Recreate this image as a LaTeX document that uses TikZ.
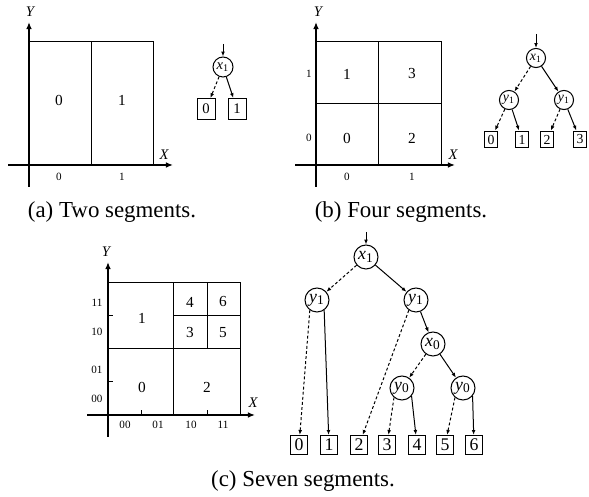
\documentclass[tikz,border=0pt]{standalone}
\usepackage{fontspec}
\setmainfont{Liberation Serif}
\usetikzlibrary{arrows.meta}

\begin{document}
\begin{tikzpicture}[x=0.45pt, y=-0.45pt,
  axis/.style={line width=0.9pt, -{Latex[length=3.2pt,width=2.6pt]}},
  part/.style={line width=0.45pt},
  seg/.style={font=\fontsize{6.9}{8}\selectfont},
  tlab/.style={font=\fontsize{5}{6}\selectfont},
  axlab/.style={font=\fontsize{6.6}{7}\selectfont\itshape},
  subcap/.style={font=\fontsize{10.3}{12}\selectfont},
  test/.style={draw, circle, inner sep=0pt, line width=0.45pt},
  leaf/.style={draw, rectangle, inner sep=0pt, line width=0.45pt},
  edge0/.style={line width=0.45pt, dash pattern=on 1.3pt off 1pt, -{Latex[length=2.2pt,width=1.7pt]}},
  edge1/.style={line width=0.45pt, -{Latex[length=2.2pt,width=1.7pt]}}]
\useasboundingbox (0,0) rectangle (589,497);

% (a) two segments
\begin{scope}
\draw[part] (29,42) rectangle (153,165);
\draw[part] (91,42) -- (91,165);
\draw[axis] (8,165) -- (173,165);
\draw[axis] (29,187) -- (29,22);
\node[axlab] (aX) at (164,155) {X};
\node[axlab] (aY) at (30,12) {Y};
\node[seg] (as0) at (59,100) {0};
\node[seg] (as1) at (122,100) {1};
\node[tlab] (ax0) at (59,177) {0};
\node[tlab] (ax1) at (122,177) {1};
% tree
\begin{scope}[every node/.append style={font=\fontsize{6.6}{7}\selectfont}]
\coordinate (ain) at (223,44);
\node[test, minimum size=9pt] (ax) at (223,67) {\textit{x}\textsubscript{1}};
\node[leaf, minimum width=8.1pt, minimum height=9.4pt] (al0) at (206,109) {0};
\node[leaf, minimum width=8.1pt, minimum height=9.4pt] (al1) at (237,109) {1};
\end{scope}
\draw[edge1] (ain) -- (ax);
\draw[edge0] (ax) -- (al0);
\draw[edge1] (ax) -- (al1);
\node[subcap] (acap) at (112,212) {(a) Two segments.};
\end{scope}

% (b) four segments
\begin{scope}
\draw[part] (316,42) rectangle (441,165);
\draw[part] (378,42) -- (378,165);
\draw[part] (316,104) -- (441,104);
\draw[axis] (295,165) -- (455,165);
\draw[axis] (316,187) -- (316,22);
\node[axlab] (bX) at (453,155) {X};
\node[axlab] (bY) at (318,12) {Y};
\foreach \v/\x/\y in {0/347/138, 1/347/74, 2/412/138, 3/412/74}
  \node[seg] (bs\v) at (\x,\y) {\v};
\node[tlab] (bx0) at (347,177) {0};
\node[tlab] (bx1) at (412,177) {1};
\node[tlab] (by0) at (309,138) {0};
\node[tlab] (by1) at (309,74) {1};
% tree
\begin{scope}[every node/.append style={font=\fontsize{6.2}{7}\selectfont}]
\coordinate (bin) at (536,34);
\node[test, minimum size=8.6pt] (bx) at (536,58) {\textit{x}\textsubscript{1}};
\node[test, minimum size=8.6pt] (bya) at (509,100) {\textit{y}\textsubscript{1}};
\node[test, minimum size=8.6pt] (byb) at (564,100) {\textit{y}\textsubscript{1}};
\foreach \v/\x in {0/491, 1/522, 2/547, 3/580}
  \node[leaf, minimum width=5.8pt, minimum height=7.6pt] (bl\v) at (\x,139.5) {\v};
\end{scope}
\draw[edge1] (bin) -- (bx);
\draw[edge0] (bx) -- (bya);
\draw[edge1] (bx) -- (byb);
\draw[edge0] (bya) -- (bl0);
\draw[edge1] (bya) -- (bl1);
\draw[edge0] (byb) -- (bl2);
\draw[edge1] (byb) -- (bl3);
\node[subcap] (bcap) at (401,212) {(b) Four segments.};
\end{scope}

% (c) seven segments
\begin{scope}
\draw[part] (108,283) rectangle (240,415);
\draw[part] (173,283) -- (173,415);
\draw[part] (108,349) -- (240,349);
\draw[part] (207,283) -- (207,349);
\draw[part] (173,316) -- (240,316);
\foreach \x in {141,207}
  \draw[part] (\x,415) -- (\x,410);
\foreach \y in {316,382}
  \draw[part] (108,\y) -- (113,\y);
\draw[axis] (87,415) -- (255,415);
\draw[axis] (108,437) -- (108,262);
\node[axlab] (cX) at (253,403) {X};
\node[axlab] (cY) at (106,252) {Y};
\foreach \v/\x/\y in {0/142/387, 1/142/318, 2/207/387, 3/190/333, 4/190/302, 5/223/333, 6/223/302}
  \node[seg] (cs\v) at (\x,\y) {\v};
\foreach \t/\x in {00/125, 01/158, 10/191, 11/223}
  \node[tlab] (cx\t) at (\x,425) {\t};
\foreach \t/\y in {11/303, 10/332, 01/370, 00/399}
  \node[tlab] (cy\t) at (97,\y) {\t};
% tree
\begin{scope}[every node/.append style={font=\fontsize{8}{9}\selectfont}]
\coordinate (cin) at (366,232);
\node[test, minimum size=10.8pt] (cxa) at (366,257) {\textit{x}\textsubscript{1}};
\node[test, minimum size=10.8pt] (cya) at (317,300) {\textit{y}\textsubscript{1}};
\node[test, minimum size=10.8pt] (cyb) at (416,300) {\textit{y}\textsubscript{1}};
\node[test, minimum size=10.8pt] (cxb) at (433,344) {\textit{x}\textsubscript{0}};
\node[test, minimum size=10.8pt] (cyc) at (402,388) {\textit{y}\textsubscript{0}};
\node[test, minimum size=10.8pt] (cyd) at (463,388) {\textit{y}\textsubscript{0}};
\foreach \v/\x in {0/299, 1/329, 2/359, 3/387, 4/417, 5/445, 6/474}
  \node[leaf, minimum width=8pt, minimum height=8.6pt] (cl\v) at (\x,445) {\v};
\end{scope}
\draw[edge1] (cin) -- (cxa);
\draw[edge0] (cxa) -- (cya);
\draw[edge1] (cxa) -- (cyb);
\draw[edge0] (cya.235) -- (cl0);
\draw[edge1] (cya.-55) -- (cl1);
\draw[edge0] (cyb.235) -- (cl2);
\draw[edge1] (cyb) -- (cxb);
\draw[edge0] (cxb) -- (cyc);
\draw[edge1] (cxb) -- (cyd);
\draw[edge0] (cyc.230) -- (cl3);
\draw[edge1] (cyc.-40) -- (cl4);
\draw[edge0] (cyd.230) -- (cl5);
\draw[edge1] (cyd.-40) -- (cl6);
\node[subcap] (ccap) at (303,481) {(c) Seven segments.};
\end{scope}
\end{tikzpicture}
\end{document}
